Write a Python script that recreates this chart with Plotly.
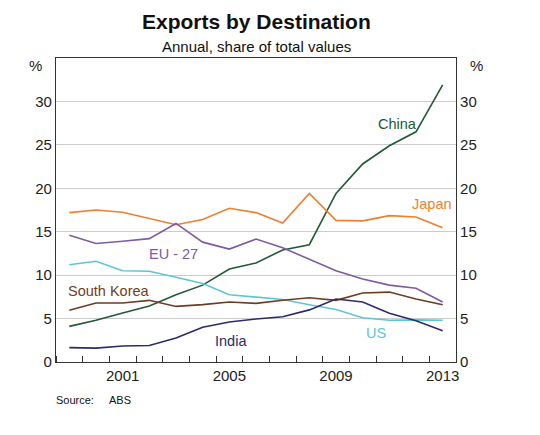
import plotly.graph_objects as go

# annual shares of total export values, %
years = list(range(1999, 2014))
china = [4.1, 4.8, 5.65, 6.45, 7.75, 8.85, 10.7, 11.4, 12.9, 13.5, 19.4, 22.8, 24.9, 26.5, 31.9]
japan = [17.2, 17.5, 17.25, 16.5, 15.8, 16.4, 17.7, 17.2, 16.0, 19.4, 16.3, 16.25, 16.85, 16.7, 15.45]
eu27 = [14.6, 13.65, 13.9, 14.2, 15.95, 13.8, 13.0, 14.15, 13.15, 11.8, 10.5, 9.55, 8.85, 8.5, 6.9]
us = [11.2, 11.6, 10.5, 10.45, 9.75, 9.05, 7.75, 7.5, 7.2, 6.6, 6.05, 5.1, 4.8, 4.85, 4.8]
south_korea = [5.95, 6.8, 6.8, 7.1, 6.4, 6.6, 6.9, 6.75, 7.1, 7.4, 7.1, 7.95, 8.05, 7.25, 6.6]
india = [1.65, 1.6, 1.85, 1.9, 2.75, 4.0, 4.6, 4.95, 5.2, 6.0, 7.25, 6.9, 5.6, 4.75, 3.6]

series = [
    ("China", china, "#215a33"),
    ("Japan", japan, "#f07f2e"),
    ("EU - 27", eu27, "#7d5ba6"),
    ("US", us, "#5ec6d3"),
    ("South Korea", south_korea, "#6f3d24"),
    ("India", india, "#2b2b6e"),
]
label_pos = {
    "China": (2011.3, 27.4),
    "Japan": (2012.6, 18.2),
    "EU - 27": (2002.9, 12.4),
    "US": (2010.5, 3.3),
    "South Korea": (2000.5, 8.2),
    "India": (2005.05, 2.4),
}

fig = go.Figure()
for name, vals, color in series:
    fig.add_trace(go.Scatter(x=years, y=vals, mode="lines", name=name,
                             line=dict(color=color, width=1.6)))
    lx, ly = label_pos[name]
    fig.add_annotation(x=lx, y=ly, text=name, showarrow=False,
                       font=dict(color=color, size=14.5))

# invisible trace so the right-hand axis is drawn
fig.add_trace(go.Scatter(x=[years[0]], y=[0], yaxis="y2", mode="none",
                         showlegend=False, hoverinfo="skip"))

# page has an 8px body margin, so the figure is shrunk to fit
W, H = 524, 419
ML, MR, MT, MB = 48, 76, 50, 65
plot_h = H - MT - MB

def py(pix):
    # pixel y in the screenshot -> paper y
    return (H - MB - (pix - 8)) / plot_h

font = "Liberation Sans, Arial, sans-serif"
fig.update_layout(
    width=W, height=H,
    margin=dict(l=ML, r=MR, t=MT, b=MB),
    paper_bgcolor="white", plot_bgcolor="white",
    showlegend=False,
    font=dict(family=font, size=15, color="#222"),
    xaxis=dict(range=[1998.5, 2013.5], tickvals=[2001, 2005, 2009, 2013],
               ticks="", showgrid=False, zeroline=False,
               showline=True, linecolor="#333", linewidth=1.2, mirror=True,
               minor=dict(tick0=1998.5, dtick=1, ticks="inside", ticklen=6,
                          tickcolor="#333", tickwidth=1, showgrid=False),
               tickfont=dict(size=15)),
    yaxis=dict(range=[0, 35], tickvals=[0, 5, 10, 15, 20, 25, 30],
               showgrid=True, gridcolor="#cccccc", gridwidth=1,
               zeroline=False, showline=True, linecolor="#333", linewidth=1.2,
               ticks="", tickfont=dict(size=15)),
    yaxis2=dict(range=[0, 35], tickvals=[0, 5, 10, 15, 20, 25, 30],
                overlaying="y", side="right", showgrid=False, zeroline=False,
                showline=True, linecolor="#333", linewidth=1.2, ticks="",
                tickfont=dict(size=15)),
)

fig.add_annotation(text="<b>Exports by Destination</b>", x=0.5, y=py(22),
                   xref="paper", yref="paper", showarrow=False,
                   yanchor="middle", font=dict(size=21, color="#111"))
fig.add_annotation(text="Annual, share of total values", x=0.5, y=py(46),
                   xref="paper", yref="paper", showarrow=False, yanchor="middle",
                   font=dict(size=15, color="#111"))
fig.add_annotation(text="%", x=-0.03, y=py(66), xref="paper", yref="paper",
                   showarrow=False, xanchor="right", yanchor="middle",
                   font=dict(size=15))
fig.add_annotation(text="%", x=1.03, y=py(66), xref="paper", yref="paper",
                   showarrow=False, xanchor="left", yanchor="middle",
                   font=dict(size=15))
fig.add_annotation(text="Source:", x=-0.005, y=py(400), xref="paper",
                   yref="paper", showarrow=False, xanchor="left",
                   yanchor="middle", font=dict(size=11, color="#111"))
fig.add_annotation(text="ABS", x=0.128, y=py(400), xref="paper",
                   yref="paper", showarrow=False, xanchor="left",
                   yanchor="middle", font=dict(size=11, color="#111"))

fig.write_html("out.html")
